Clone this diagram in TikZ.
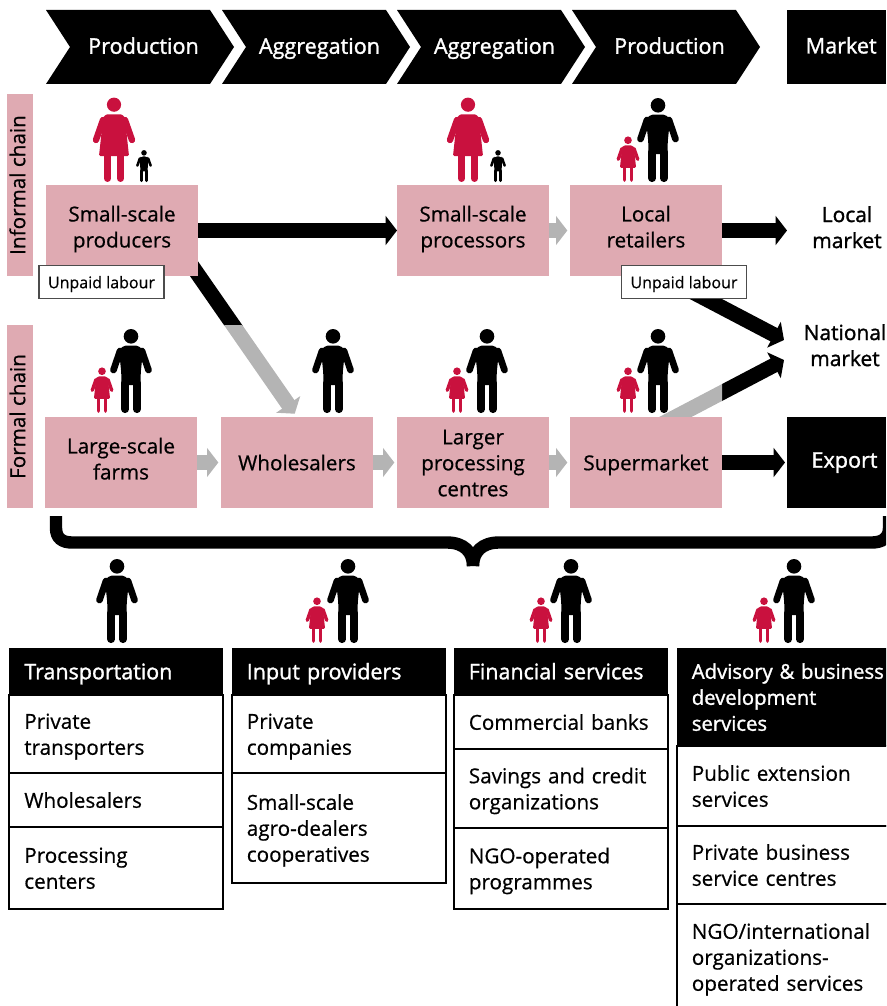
\documentclass[tikz,border=0pt]{standalone}
\usepackage{fontspec}
\setmainfont[FakeBold=0.6]{Open Sans}
\newfontfamily\headfont[FakeBold=1.4]{Open Sans}
\usetikzlibrary{arrows.meta,backgrounds}
\definecolor{chainpink}{HTML}{DFAAB2}
\definecolor{personred}{HTML}{C9113E}
\definecolor{flowgrey}{HTML}{B4B4B4}
\tikzset{
  x=.75pt, y=-.75pt,
  strutlift/.store in=\strutlift, strutlift=17.5pt,
  body/.style={font=\fontsize{15.5}{19.5}\selectfont, align=center, inner sep=0pt, outer sep=0pt,
    execute at begin node=\rule{0pt}{\strutlift}, execute at end node=\strut},
  stagetext/.style={body, text=white, font=\headfont\fontsize{16.2}{19.5}\selectfont},
  stagebox/.style={stagetext, fill=black},
  chainbox/.style={body, fill=chainpink, minimum width=114pt, minimum height=68.25pt},
  chainbar/.style={body, strutlift=10.5pt, fill=chainpink, rotate=90, minimum width=137pt, minimum height=19.5pt},
  unpaidbox/.style={body, strutlift=13.5pt, draw=black!70, line width=1.1pt, fill=white, minimum width=94pt, minimum height=24.5pt,
    font=\fontsize{12}{14}\selectfont},
  marketlabel/.style={body, font=\headfont\fontsize{15.7}{19.5}\selectfont},
  tablehead/.style={body, fill=black, text=white, anchor=north west, align=left, inner xsep=11.5pt,
    text width=137.5pt, font=\headfont\fontsize{16.1}{19.5}\selectfont},
  tablecell/.style={body, draw=black, line width=1.5pt, fill=white, anchor=north west, align=left, inner xsep=11.5pt,
    text width=137.5pt},
  flow/.style={line width=11.25pt, -{Triangle[length=8.5pt,width=21.5pt]}},
  pics/man/.style n args={2}{code={
    \begin{scope}[scale=#2, fill=#1, draw=#1, line cap=round]
      \fill (0,-76.7) circle (7.3);
      \fill[rounded corners=1.5pt] (-7,-67.5) -- (7,-67.5) -- (12,-63) -- (9.7,-40) -- (9.7,-28) -- (-9.7,-28) -- (-9.7,-40) -- (-12,-63) -- cycle;
      \draw[line width=#2*5pt] (11,-62) -- (17.5,-43);
      \draw[line width=#2*5pt] (-11,-62) -- (-17.5,-43);
      \draw[line width=#2*5.8pt] (5.8,-30) -- (5.8,-3.8);
      \draw[line width=#2*5.8pt] (-5.8,-30) -- (-5.8,-3.8);
    \end{scope}}},
  pics/woman/.style n args={2}{code={
    \begin{scope}[scale=#2, fill=#1, draw=#1, line cap=round]
      \fill (0,-77.3) circle (7.1);
      \fill[rounded corners=1pt] (-8,-67.7) -- (8,-67.7) -- (12,-63) -- (12,-54) -- (15,-26) -- (-15,-26) -- (-12,-54) -- (-12,-63) -- cycle;
      \draw[line width=#2*4.8pt] (11,-62) -- (18,-42);
      \draw[line width=#2*4.8pt] (-11,-62) -- (-18,-42);
      \draw[line width=#2*5.2pt] (6.5,-28) -- (6.5,-3.5);
      \draw[line width=#2*5.2pt] (-6.5,-28) -- (-6.5,-3.5);
    \end{scope}}}
}
\begin{document}
\begin{tikzpicture}
  \clip (0,0) rectangle (886,1006);
  % stages
  \foreach \x/\t in {46/Production,222/Aggregation,397/Aggregation,572/Production} {
    \fill (\x,10) -- ++(164,0) -- ++(24,37) -- ++(-24,37) -- ++(-164,0) -- ++(24,-37) -- cycle;
    \node[stagetext] (stage\x) at (\x+97.5,46) {\t};
  }
  \node[stagebox, strutlift=15.5pt, minimum width=74.25pt, minimum height=55.5pt] (market) at (836.5,47) {\hspace*{7pt}Market};

  % chains
  \node[chainbar] (informal) at (20,185) {Informal chain};
  \node[chainbar] (formal) at (20,416.5) {Formal chain};
  \node[chainbox] (producers) at (122,230.5) {Small-scale\\producers};
  \node[chainbox] (processors) at (473,230.5) {Small-scale\\processors};
  \node[chainbox] (retailers) at (646,230.5) {Local\\retailers};
  \node[chainbox] (farms) at (121,462.5) {Large-scale\\farms};
  \node[chainbox] (wholesalers) at (297,462.5) {Wholesalers};
  \node[chainbox] (centres) at (473,462.5) {\rule{0pt}{17.6pt}Larger\\processing\\centres};
  \node[chainbox] (supermarket) at (646,462.5) {Supermarket};
  \node[stagebox, strutlift=13pt, minimum width=74.25pt, minimum height=68.25pt] (export) at (836.5,462.5) {\hspace*{12pt}Export};
  \node[unpaidbox] (unpaidone) at (101.5,282) {Unpaid labour};
  \node[unpaidbox] (unpaidtwo) at (684,282) {Unpaid labour};
  \node[marketlabel] (local) at (847,231) {Local\\market};
  \node[marketlabel] (national) at (845,349) {National\\market};
  \coordinate (localin) at (787,230.5);
  \coordinate (nationalupper) at (784,340);
  \coordinate (nationallower) at (784,360);
  \coordinate (retailersout) at (662,276);
  \coordinate (supermarketout) at (662,424);
  \coordinate (producersout) at (185,255.8);

  % people
  \foreach \x/\y in {114/182,468/182} \pic at (\x,\y) {woman={personred}{1}};
  \foreach \x/\y in {144/182,498/182} \pic at (\x,\y) {man={black}{.38}};
  \foreach \x/\y in {658/182,131/413,333/413,487/413,658/413,117/643,348/643,571/643,794/643}
    \pic at (\x,\y) {man={black}{1}};
  \foreach \x/\y in {628/182,102/413,457/413,628/413,317/643,541/643,764/643}
    \pic at (\x,\y) {woman={personred}{.54}};

  % flows
  \begin{scope}[on background layer]
    \draw[flow] (producers.east) -- (processors.west);
    \draw[flow] (retailers.east) -- (localin);
    \draw[flow, shorten >=1.5pt] (supermarket.east) -- (export.west);
    \draw[flow, flowgrey, shorten >=2pt] (processors.east) -- (retailers.west);
    \draw[flow, flowgrey, shorten >=2pt] (farms.east) -- (wholesalers.west);
    \draw[flow, flowgrey, shorten >=2pt] (wholesalers.east) -- (centres.west);
    \draw[flow, flowgrey, shorten >=2pt] (centres.east) -- (supermarket.west);
    \draw[flow] (retailersout) -- (nationalupper);
    \begin{scope}
      \clip (150,240) rectangle (340,325);
      \draw[flow, shorten >=3pt] (producersout) -- (wholesalers.north);
    \end{scope}
    \begin{scope}
      \clip (150,325) rectangle (340,425);
      \draw[flow, flowgrey, shorten >=3pt] (producersout) -- (wholesalers.north);
    \end{scope}
    \begin{scope}
      \clip (722,330) rectangle (800,430);
      \draw[flow] (supermarketout) -- (nationallower);
    \end{scope}
    \begin{scope}
      \clip (640,330) rectangle (722,430);
      \draw[flow, flowgrey] (supermarketout) -- (nationallower);
    \end{scope}
  \end{scope}

  % brace
  \draw[line width=9.3pt] (56,516) -- (56,528) .. controls (56,538) and (62,542.5) .. (72,542.5) -- (447,542.5)
    .. controls (464,542.5) and (473,552) .. (473,566);
  \draw[line width=9.3pt] (889,516) -- (889,528) .. controls (889,538) and (882,542.5) .. (872,542.5) -- (499,542.5)
    .. controls (482,542.5) and (473,552) .. (473,566);

  % services
  \node[tablehead, minimum height=35.25pt] (transport) at (9,648) {Transportation};
  \node[tablecell, minimum height=58.5pt] (transporters) at (transport.south west) {Private\\transporters};
  \node[tablecell, minimum height=40.5pt] (wholesale) at (transporters.south west) {Wholesalers};
  \node[tablecell, minimum height=61.5pt] (processing) at (wholesale.south west) {Processing\\centers};

  \node[tablehead, minimum height=35.25pt] (input) at (231.5,648) {Input providers};
  \node[tablecell, minimum height=58.5pt] (companies) at (input.south west) {Private\\companies};
  \node[tablecell, minimum height=82.5pt] (dealers) at (companies.south west) {Small-scale\\agro-dealers\\cooperatives};

  \node[tablehead, minimum height=35.25pt] (financial) at (453.5,648) {Financial services};
  \node[tablecell, minimum height=40.5pt] (banks) at (financial.south west) {Commercial banks};
  \node[tablecell, minimum height=59.25pt] (savings) at (banks.south west) {Savings and credit\\organizations};
  \node[tablecell, minimum height=60.75pt] (ngo) at (savings.south west) {NGO-operated\\programmes};

  \node[tablehead, text width=160pt, minimum height=73.5pt, font=\headfont\fontsize{15.2}{19.5}\selectfont] (advisory) at (676.5,648) {Advisory \& business\\development\\services};
  \node[tablecell, text width=160pt, minimum height=60pt] (extension) at (advisory.south west) {Public extension\\services};
  \node[tablecell, text width=160pt, minimum height=58.5pt] (business) at (extension.south west) {Private business\\service centres};
  \node[tablecell, text width=160pt, minimum height=79.5pt] (international) at (business.south west) {NGO/international\\organizations-\\operated services};
\end{tikzpicture}
\end{document}
